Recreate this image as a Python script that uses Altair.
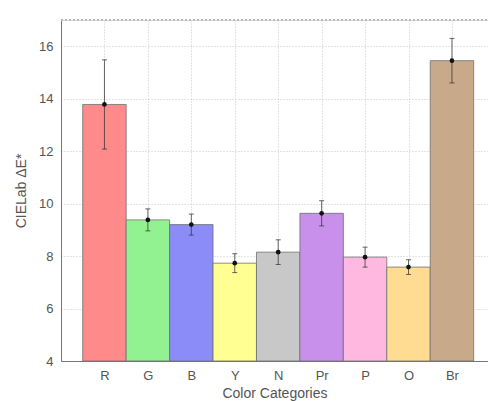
import altair as alt
import pandas as pd

# Mean CIELab colour difference per colour category, with error half-widths
categories = ["R", "G", "B", "Y", "N", "Pr", "P", "O", "Br"]
mean_delta_e = [13.78, 9.38, 9.20, 7.73, 8.15, 9.63, 7.96, 7.58, 15.45]
error = [1.70, 0.42, 0.40, 0.36, 0.47, 0.48, 0.38, 0.28, 0.85]
bar_colors = ["#ff8a8a", "#92f292", "#8c8cf8", "#ffff92", "#c8c8c8",
              "#c890ea", "#ffb8e0", "#ffdc92", "#c8aa8a"]
y_ticks = [4, 6, 8, 10, 12, 14, 16]

df = pd.DataFrame({
    "cat": categories,
    "pos": list(range(1, len(categories) + 1)),
    "value": mean_delta_e,
    "err": error,
    "color": bar_colors,
})

label_expr = "[" + ",".join(f"'{c}'" for c in categories) + "][datum.value - 1]"

FONT = "Liberation Sans"
x_scale = alt.Scale(domain=[0, 9.83], nice=False, zero=False)
y_scale = alt.Scale(domain=[4, 17], nice=False, zero=False)

axis_style = dict(
    grid=True, gridDash=[1, 2], gridColor="#c8c8c8", domainColor="#777",
    tickSize=0, labelFont=FONT, titleFont=FONT, labelFontSize=13,
    titleFontSize=14, labelColor="#555", titleColor="#555",
    titleFontWeight="normal",
)

base = alt.Chart(df).transform_calculate(
    left="datum.pos - 0.5",
    right="datum.pos + 0.5",
    lo="datum.value - datum.err",
    hi="datum.value + datum.err",
)

bars = base.mark_rect(stroke="#6e6e6e", strokeWidth=0.8).encode(
    x=alt.X("left:Q", scale=x_scale,
            axis=alt.Axis(values=list(range(1, len(categories) + 1)),
                          labelExpr=label_expr, title="Color Categories",
                          labelPadding=8, titlePadding=4, **axis_style)),
    x2="right:Q",
    y=alt.Y("value:Q", scale=y_scale,
            axis=alt.Axis(values=y_ticks, title="CIELab ΔE*",
                          labelPadding=8, titlePadding=10, **axis_style)),
    y2=alt.datum(4),
    fill=alt.Color("color:N", scale=None),
)

whisker = base.mark_rule(color="#333", strokeWidth=1, opacity=0.75).encode(
    x="pos:Q", y="lo:Q", y2="hi:Q"
)
cap_hi = base.mark_tick(color="#333", orient="horizontal", size=5,
                        thickness=1, opacity=0.75).encode(x="pos:Q", y="hi:Q")
cap_lo = base.mark_tick(color="#333", orient="horizontal", size=5,
                        thickness=1, opacity=0.75).encode(x="pos:Q", y="lo:Q")
dots = base.mark_point(filled=True, color="#111", size=22, opacity=1).encode(
    x="pos:Q", y="value:Q"
)

top_border = alt.Chart(df).mark_rule(
    color="#bbb", strokeDash=[2, 2], strokeWidth=1
).encode(y=alt.datum(17), x=alt.value(0), x2=alt.value(427))

chart = (bars + whisker + cap_hi + cap_lo + dots + top_border).properties(
    width=427,
    height=341,
    autosize=alt.AutoSizeParams(type="none"),
    padding={"left": 61, "top": 20, "right": 0, "bottom": 40},
).configure_view(stroke=None).configure(background="white")

chart.save("out.html", embed_options={"renderer": "svg", "actions": False})
